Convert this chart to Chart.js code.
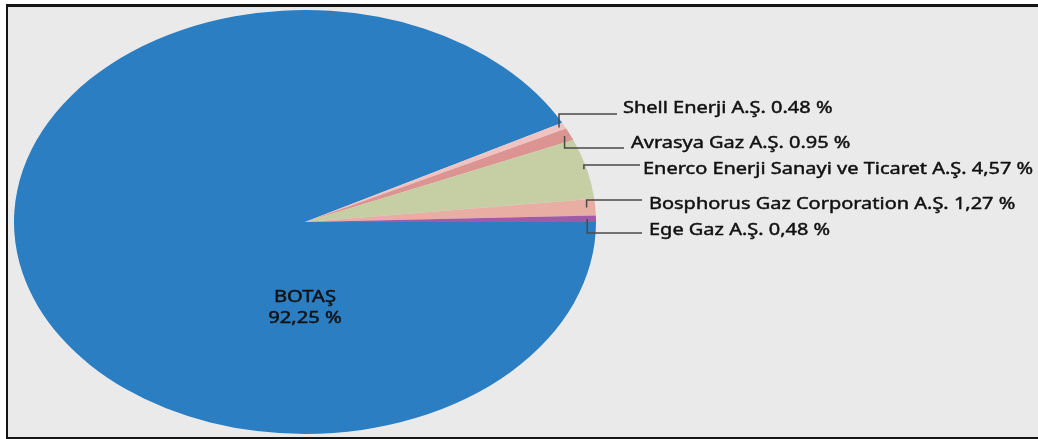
<!DOCTYPE html>
<html lang="tr">
<head>
    <meta charset="UTF-8">
    <title>Pazar payları</title>
    <script src="https://cdn.jsdelivr.net/npm/chart.js"></script>
    <style>
        body {
            margin: 0;
            padding: 0;
            background: #fff;
        }
        .wrap {
            position: relative;
            width: 1038px;
            height: 439px;
            overflow: hidden;
        }
        .frame {
            position: absolute;
            left: 6px;
            top: 4px;
            width: 1032px;
            height: 435px;
            box-sizing: border-box;
            background: #eaeaea;
            border-left: 2px solid #151515;
            border-top: 3px solid #151515;
            border-bottom: 2px solid #151515;
        }
        canvas {
            position: absolute;
            left: 0;
            top: 0;
        }
    </style>
</head>
<body>
<div class="wrap">
    <div class="frame"></div>
    <canvas id="pie" width="1038" height="439"></canvas>
</div>

<script>
    // data
    const companies = ['BOTAŞ', 'Shell Enerji A.Ş.', 'Avrasya Gaz A.Ş.', 'Enerco Enerji Sanayi ve Ticaret A.Ş.', 'Bosphorus Gaz Corporation A.Ş.', 'Ege Gaz A.Ş.'];
    const shares = [92.25, 0.48, 0.95, 4.57, 1.27, 0.48];
    const shareText = ['92,25 %', '0.48 %', '0.95 %', '4,57 %', '1,27 %', '0,48 %'];
    const colors = ['#2b7ec1', '#efc3c1', '#db9491', '#c6cfa3', '#e8ada3', '#a15aa8'];

    // geometry of the (stretched) pie
    const cx = 305, cy = 222, ry = 212, rx = 291;
    const sx = rx / ry;

    // callout layout for the small slices (index 1..5)
    const lineY    = [null, 114, 148, 165, 200, 233];
    const lineEndX = [null, 617, 624, 640, 642, 642];
    const textX    = [null, 623, 631, 643, 649, 649];
    const textY    = [null, 108, 143, 169, 204, 230];
    const anchorR  = [null, 0.98, 0.98, 0.99, 0.97, 0.97];

    const FONT = '"Noto Sans", "Open Sans", sans-serif';

    // the source picture is stretched sideways, text included
    function wideText(ctx, txt, x, y, k) {
        ctx.save();
        ctx.translate(x, y);
        ctx.scale(k, 1);
        ctx.lineWidth = 0.45;
        ctx.strokeStyle = ctx.fillStyle;
        ctx.fillText(txt, 0, 0);
        ctx.strokeText(txt, 0, 0);
        ctx.restore();
    }

    const stretch = {
        id: 'stretch',
        beforeDatasetsDraw(chart) {
            const a = chart.getDatasetMeta(0).data[0];
            const ctx = chart.ctx;
            ctx.save();
            ctx.translate(a.x, a.y);
            ctx.scale(sx, 1);
            ctx.translate(-a.x, -a.y);
        },
        afterDatasetsDraw(chart) {
            chart.ctx.restore();
        }
    };

    const callouts = {
        id: 'callouts',
        afterDraw(chart) {
            const ctx = chart.ctx;
            const arcs = chart.getDatasetMeta(0).data;
            ctx.save();

            // big slice label
            const big = arcs[0];
            ctx.fillStyle = '#111';
            ctx.font = '15.5px ' + FONT;
            ctx.textAlign = 'center';
            ctx.textBaseline = 'middle';
            wideText(ctx, companies[0], big.x, big.y + 76, 1.3);
            wideText(ctx, shareText[0], big.x, big.y + 97, 1.3);

            ctx.font = '16.5px ' + FONT;
            ctx.textAlign = 'left';
            for (let i = 1; i < arcs.length; i++) {
                const p = arcs[i].getProps(['x', 'y', 'startAngle', 'endAngle', 'outerRadius'], true);
                const mid = (p.startAngle + p.endAngle) / 2;
                const ax = p.x + Math.cos(mid) * p.outerRadius * anchorR[i] * sx;
                const ay = p.y + Math.sin(mid) * p.outerRadius * anchorR[i];

                ctx.strokeStyle = '#4a4a4a';
                ctx.lineWidth = 1.5;
                ctx.beginPath();
                ctx.moveTo(ax, ay);
                ctx.lineTo(ax, lineY[i]);
                ctx.lineTo(lineEndX[i], lineY[i]);
                ctx.stroke();

                ctx.fillStyle = '#111';
                wideText(ctx, companies[i] + ' ' + shareText[i], textX[i], textY[i], 1.21);
            }
            ctx.restore();
        }
    };

    new Chart(document.getElementById('pie'), {
        type: 'pie',
        data: {
            labels: companies,
            datasets: [{
                data: shares,
                backgroundColor: colors,
                borderWidth: 0
            }]
        },
        options: {
            responsive: false,
            animation: false,
            rotation: 90,
            events: [],
            layout: {
                padding: {
                    left: cx - ry,
                    right: 1038 - cx - ry,
                    top: cy - ry,
                    bottom: 439 - cy - ry
                }
            },
            plugins: {
                legend: { display: false },
                tooltip: { enabled: false }
            }
        },
        plugins: [stretch, callouts]
    });
</script>
</body>
</html>
